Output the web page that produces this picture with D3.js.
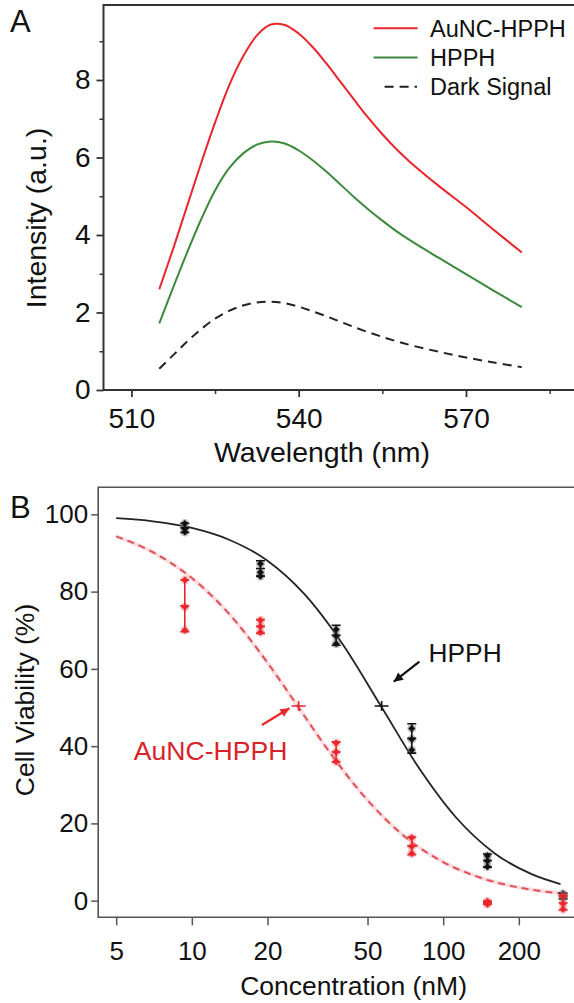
<!DOCTYPE html>
<html><head><meta charset="utf-8">
<script src="https://cdn.jsdelivr.net/npm/d3@7"></script>
<style>
body{margin:0;background:#fff}
svg{display:block}
text{font-family:"Liberation Sans",Arial,sans-serif}
</style>
</head><body>
<svg id="c" width="574" height="1003"></svg>
<script>
// ---------- Panel A data ----------
const wavelengths = [515,517.5,520,522.5,525,527.5,530,532.5,535,537.5,540,542.5,545,547.5,550,552.5,555,557.5,560,565,570,575,580];
const aunchpphIntensity = [2.6,3.65,4.75,5.85,6.9,7.85,8.6,9.15,9.43,9.42,9.2,8.85,8.42,7.95,7.48,7.02,6.6,6.22,5.88,5.28,4.72,4.13,3.55];
const hpphIntensity = [1.72,2.65,3.55,4.4,5.15,5.72,6.1,6.33,6.41,6.36,6.18,5.93,5.63,5.3,4.97,4.66,4.37,4.1,3.86,3.42,2.99,2.56,2.14];
const darkIntensity = [0.55,0.9,1.25,1.57,1.84,2.04,2.18,2.26,2.28,2.24,2.15,2.03,1.9,1.76,1.62,1.49,1.37,1.26,1.16,0.99,0.84,0.71,0.59];
const xTicksA = [510,540,570];
const xMinorA = [525,555,585];
const yTicksA = [0,2,4,6,8];
const yMinorA = [1,3,5,7,9];
const legendLabels = ["AuNC-HPPH","HPPH","Dark Signal"];

// ---------- Panel B data ----------
const hpphFitConc = [5,7,10,14,20,28,40,57,80,113,160,226,293];
const hpphFitVal  = [99.0,98.2,96.5,93.5,88.0,79.4,66.2,50.0,34.4,21.4,12.3,6.8,4.3];
const aunFitConc  = [5,7,10,14,20,26.6,35,50,70,100,140,200,293];
const aunFitVal   = [94.3,90.2,83.5,74.4,61.6,50.0,38.8,26.0,16.7,10.0,6.0,3.4,1.9];
const concentrations = [9.375,18.75,37.5,75,150,300];
const hpphMean = [96.5,86.0,68.7,42.0,10.4,1.2];
const hpphErr  = [1.2,2.0,2.6,3.8,1.7,0.7];
const hpphReps = [[97.6,96.3,95.4],[87.2,85.0,84.0],[70.2,68.5,66.5],[44.6,41.8,39.0],[11.6,10.3,8.8],[1.8,1.2,0.6]];
const aunMean  = [76.3,71.0,38.5,14.2,-0.5,-0.6];
const aunErr   = [6.7,1.8,2.6,2.3,0.4,1.8];
const aunReps  = [[83.0,76.0,70.0],[72.6,71.0,69.5],[40.8,38.5,36.0],[16.3,14.0,12.2],[-0.2,-0.5,-0.9],[1.2,-0.8,-2.2]];
const ic50Conc = [56.9,26.6];
const ic50Val  = [50.4,50.4];
const xTicksB = [5,10,20,50,100,200];
const yTicksB = [0,20,40,60,80,100];
const seriesB = ["HPPH","AuNC-HPPH"];

const RED = "#e8262c", GREEN = "#3c8a3c", DARK = "#222";
const svg = d3.select("#c");
svg.append("rect").attr("width",574).attr("height",1003).attr("fill","#fff");

// ================= Panel A =================
const xA = d3.scaleLinear().domain([505,600]).range([103.5,633.3]);
const yA = d3.scaleLinear().domain([0,9.935]).range([390,5]);
const gA = svg.append("g");
const frameA = "#333";

function styleAxis(g, color, sw, fs){
  g.select(".domain").remove();
  g.selectAll(".tick line").attr("stroke",color).attr("stroke-width",sw);
  g.selectAll(".tick text").attr("fill","#111").style("font-size",fs+"px").style("font-family",'"Liberation Sans",Arial,sans-serif');
}

gA.append("g").attr("transform","translate(103.5,0)")
  .call(d3.axisLeft(yA).tickValues(yMinorA).tickSize(4).tickFormat(""))
  .call(g=>styleAxis(g,frameA,1.5,28));
gA.append("g").attr("transform","translate(0,390)")
  .call(d3.axisBottom(xA).tickValues(xMinorA).tickSize(4).tickFormat(""))
  .call(g=>styleAxis(g,frameA,1.5,28));
gA.append("g").attr("transform","translate(103.5,0)")
  .call(d3.axisLeft(yA).tickValues(yTicksA).tickSize(7).tickPadding(6).tickFormat(d3.format("d")))
  .call(g=>styleAxis(g,frameA,1.8,28));
gA.append("g").attr("transform","translate(0,390)")
  .call(d3.axisBottom(xA).tickValues(xTicksA).tickSize(7).tickPadding(11).tickFormat(d3.format("d")))
  .call(g=>styleAxis(g,frameA,1.8,28));
gA.append("path").attr("d",`M${xA(600)},${yA(9.935)}H${xA(505)}V${yA(0)}H${xA(600)}`)
  .attr("fill","none").attr("stroke",frameA).attr("stroke-width",2);

const lineA = d3.line().x((d,i)=>xA(wavelengths[i])).y(d=>yA(d)).curve(d3.curveCatmullRom.alpha(0.5));
gA.append("path").datum(darkIntensity).attr("d",lineA).attr("fill","none")
  .attr("stroke",DARK).attr("stroke-width",2).attr("stroke-dasharray","9,6");
gA.append("path").datum(hpphIntensity).attr("d",lineA).attr("fill","none")
  .attr("stroke",GREEN).attr("stroke-width",2);
gA.append("path").datum(aunchpphIntensity).attr("d",lineA).attr("fill","none")
  .attr("stroke",RED).attr("stroke-width",2);

const legColors = [RED,GREEN,DARK];
const legDash = [null,null,"9,6"];
legendLabels.forEach((lab,i)=>{
  const y = 28.3 + i*29.2;
  const ln = gA.append("line").attr("y1",y).attr("y2",y)
    .attr("x1", i===2?384.6:373.6).attr("x2", i===2?417:417.6)
    .attr("stroke",legColors[i]).attr("stroke-width",2);
  if(legDash[i]) ln.attr("stroke-dasharray",legDash[i]);
  gA.append("text").attr("x",430).attr("y",y).attr("dy","0.36em")
    .style("font-size","23.5px").attr("fill","#111").text(lab);
});

gA.append("text").attr("x",322).attr("y",462).attr("text-anchor","middle")
  .style("font-size","28.5px").attr("fill","#111").text("Wavelength (nm)");
gA.append("text").attr("transform","translate(46,218) rotate(-90)").attr("text-anchor","middle")
  .style("font-size","28.5px").attr("fill","#111").text("Intensity (a.u.)");
gA.append("text").attr("x",10).attr("y",32).style("font-size","31px").attr("fill","#111").text("A");

// ================= Panel B =================
const xB = d3.scaleLog().domain([4.24,600]).range([98.2,638.75]);
const yB = d3.scaleLinear().domain([-4.3,107]).range([917.3,487.3]);
const gB = svg.append("g");
const frameB = "#555";

gB.append("g").attr("transform","translate(98.2,0)")
  .call(d3.axisLeft(yB).tickValues(yTicksB).tickSize(7).tickPadding(3).tickFormat(d3.format("d")))
  .call(g=>styleAxis(g,frameB,1.5,26));
gB.append("g").attr("transform","translate(0,917.3)")
  .call(d3.axisBottom(xB).tickValues(xTicksB).tickSize(8).tickPadding(16).tickFormat(d3.format("d")))
  .call(g=>styleAxis(g,frameB,1.5,26));
gB.append("path").attr("d",`M${xB(600)},${yB(107)}H${xB(4.24)}V${yB(-4.3)}H${xB(600)}`)
  .attr("fill","none").attr("stroke",frameB).attr("stroke-width",1.6);

const lineH = d3.line().x((d,i)=>xB(hpphFitConc[i])).y(d=>yB(d)).curve(d3.curveMonotoneX);
const lineR = d3.line().x((d,i)=>xB(aunFitConc[i])).y(d=>yB(d)).curve(d3.curveMonotoneX);
gB.append("path").datum(aunFitVal).attr("d",lineR).attr("fill","none")
  .attr("stroke","#f6a0a8").attr("stroke-width",4).attr("opacity",0.35);
gB.append("path").datum(aunFitVal).attr("d",lineR).attr("fill","none")
  .attr("stroke","#e0525a").attr("stroke-width",2).attr("stroke-dasharray","7,5");
gB.append("path").datum(hpphFitVal).attr("d",lineH).attr("fill","none")
  .attr("stroke","#222").attr("stroke-width",1.8);

function drawSeries(mean, err, reps, color, halo){
  concentrations.forEach((c,i)=>{
    const x = xB(c);
    reps[i].forEach(v=>{
      gB.append("circle").attr("cx",x).attr("cy",yB(v)).attr("r",4.5).attr("fill",halo).attr("opacity",0.45);
    });
    reps[i].forEach(v=>{
      const y = yB(v);
      gB.append("path").attr("d",`M${x},${y-3.5}L${x+3.5},${y}L${x},${y+3.5}L${x-3.5},${y}Z`).attr("fill",color);
    });
    const y1 = yB(mean[i]+err[i]), y2 = yB(mean[i]-err[i]), ym = yB(mean[i]);
    gB.append("path").attr("d",`M${x},${y1}V${y2}M${x-4.5},${y1}H${x+4.5}M${x-4.5},${y2}H${x+4.5}M${x-4.5},${ym}H${x+4.5}`)
      .attr("stroke",color).attr("stroke-width",1.6).attr("fill","none");
  });
}
drawSeries(hpphMean,hpphErr,hpphReps,"#111","#777");
drawSeries(aunMean,aunErr,aunReps,"#e8262c","#f08080");

ic50Conc.forEach((c,i)=>{
  const x = xB(c), y = yB(ic50Val[i]);
  gB.append("path").attr("d",`M${x-7},${y}H${x+7}M${x},${y-5}V${y+5}`)
    .attr("stroke", i===0?"#111":"#e8262c").attr("stroke-width",1.6);
});

function arrow(x1,y1,x2,y2,color){
  gB.append("line").attr("x1",x1).attr("y1",y1).attr("x2",x2).attr("y2",y2)
    .attr("stroke",color).attr("stroke-width",2.2);
  const a = Math.atan2(y2-y1,x2-x1), L=9, W=4.5;
  const bx = x2 - L*Math.cos(a), by = y2 - L*Math.sin(a);
  const px = -Math.sin(a)*W, py = Math.cos(a)*W;
  gB.append("path").attr("d",`M${x2},${y2}L${bx+px},${by+py}L${bx-px},${by-py}Z`).attr("fill",color);
}
arrow(419.4,661.7,393.8,681.7,"#111");
arrow(261.9,725,289.4,708.3,"#e8262c");
gB.append("text").attr("x",428.6).attr("y",661.7).style("font-size","26.3px").attr("fill","#111").text(seriesB[0]);
gB.append("text").attr("x",133.7).attr("y",760).style("font-size","26.6px").attr("fill","#d8232a").text(seriesB[1]);

gB.append("text").attr("x",353.6).attr("y",995).attr("text-anchor","middle")
  .style("font-size","26.5px").attr("fill","#111").text("Concentration (nM)");
gB.append("text").attr("transform","translate(34,700) rotate(-90)").attr("text-anchor","middle")
  .style("font-size","26.5px").attr("fill","#111").text("Cell Viability (%)");
gB.append("text").attr("x",10).attr("y",518).style("font-size","31px").attr("fill","#111").text("B");
</script>
</body></html>
